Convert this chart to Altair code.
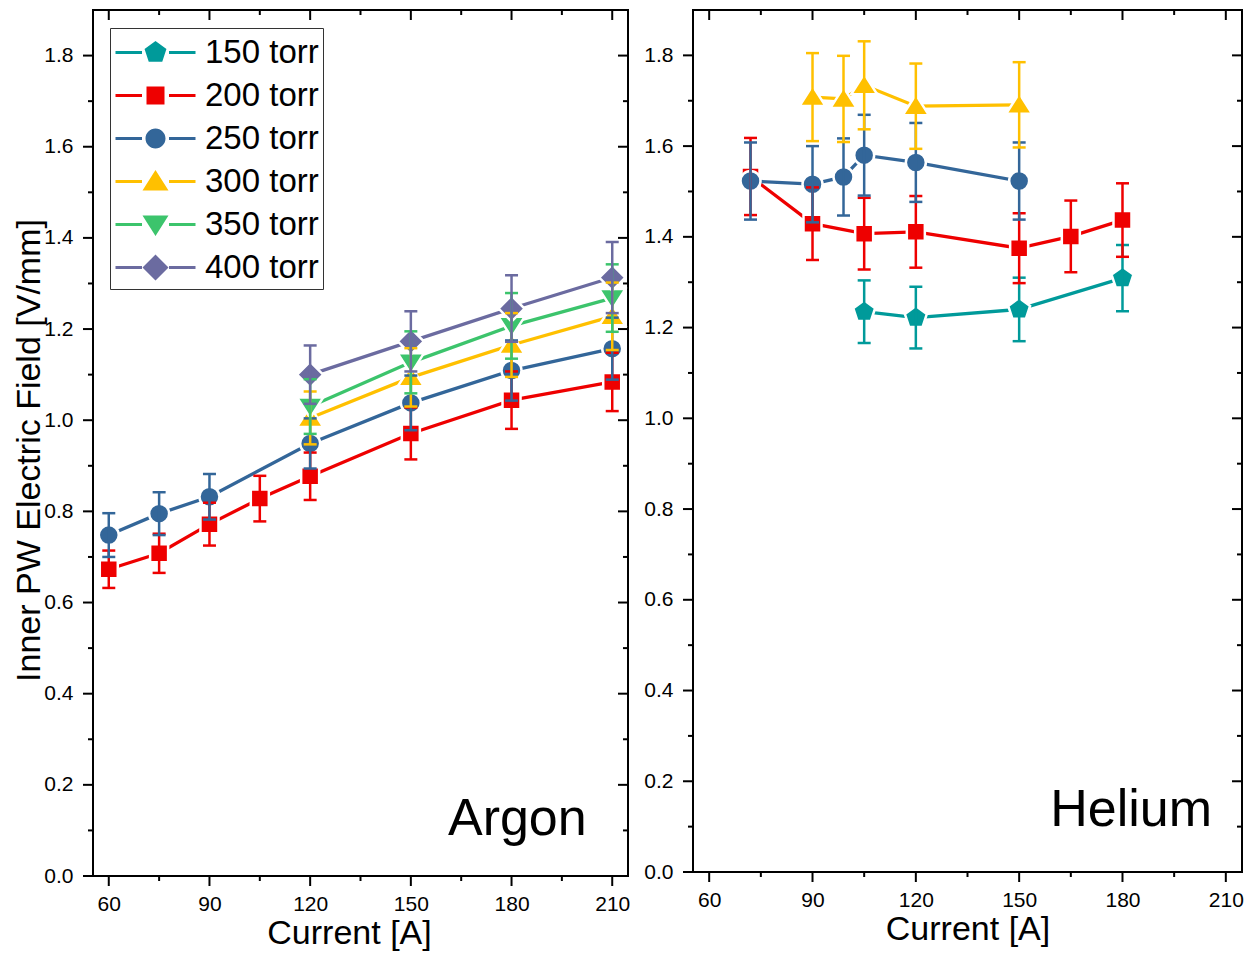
import altair as alt
import pandas as pd

SERIES = ["150 torr", "200 torr", "250 torr", "300 torr", "350 torr", "400 torr"]
COLORS = ["#009a9a", "#ee0000", "#336699", "#ffc000", "#3cc46c", "#6b6ba0"]

# ---------------- Argon (left panel) ----------------
ar_200_x = [60, 75, 90, 105, 120, 150, 180, 210]
ar_200_y = [0.673, 0.708, 0.772, 0.828, 0.877, 0.971, 1.044, 1.084]
ar_200_e = [0.041, 0.043, 0.047, 0.050, 0.052, 0.057, 0.063, 0.064]

ar_250_x = [60, 75, 90, 120, 150, 180, 210]
ar_250_y = [0.748, 0.795, 0.832, 0.949, 1.038, 1.109, 1.157]
ar_250_e = [0.048, 0.047, 0.050, 0.055, 0.060, 0.066, 0.068]

ar_300_x = [120, 150, 180, 210]
ar_300_y = [1.005, 1.094, 1.165, 1.228]
ar_300_e = [0.058, 0.064, 0.070, 0.074]

ar_350_x = [120, 150, 180, 210]
ar_350_y = [1.030, 1.127, 1.207, 1.268]
ar_350_e = [0.060, 0.068, 0.072, 0.074]

ar_400_x = [120, 150, 180, 210]
ar_400_y = [1.100, 1.173, 1.245, 1.313]
ar_400_e = [0.064, 0.066, 0.073, 0.078]

# ---------------- Helium (right panel) ----------------
he_150_x = [105, 120, 150, 180]
he_150_y = [1.235, 1.222, 1.240, 1.309]
he_150_e = [0.069, 0.068, 0.070, 0.073]

he_200_x = [72, 90, 105, 120, 150, 165, 180]
he_200_y = [1.533, 1.429, 1.407, 1.411, 1.375, 1.401, 1.437]
he_200_e = [0.085, 0.080, 0.079, 0.079, 0.077, 0.079, 0.081]

he_250_x = [72, 90, 99, 105, 120, 150]
he_250_y = [1.523, 1.516, 1.532, 1.580, 1.564, 1.523]
he_250_e = [0.085, 0.084, 0.085, 0.089, 0.087, 0.085]

he_300_x = [90, 99, 105, 120, 150]
he_300_y = [1.708, 1.704, 1.734, 1.688, 1.691]
he_300_e = [0.097, 0.095, 0.097, 0.094, 0.094]

# ticks / annotations
X_MAJOR = [60, 90, 120, 150, 180, 210]
X_MINOR = [75, 105, 135, 165, 195]
Y_MAJOR = [0.0, 0.2, 0.4, 0.6, 0.8, 1.0, 1.2, 1.4, 1.6, 1.8]
Y_MINOR = [0.1, 0.3, 0.5, 0.7, 0.9, 1.1, 1.3, 1.5, 1.7]
X_DOMAIN = [55.3, 214.7]
Y_DOMAIN = [0.0, 1.9]

ar_label = ["Argon"]
ar_label_x = [202.4]
ar_label_y = [0.09]
he_label = ["Helium"]
he_label_x = [206.0]
he_label_y = [0.101]

# marker shapes (custom symbol paths, unit = sqrt(size)/2 px)
MARKERS = [
    "M0,-1.15L1.094,-0.355L0.676,0.93L-0.676,0.93L-1.094,-0.355Z",
    "M-0.9,-0.9L0.9,-0.9L0.9,0.9L-0.9,0.9Z",
    "M1,0A1,1,0,1,1,-1,0A1,1,0,1,1,1,0Z",
    "M0,-1.15L1.3,0.9L-1.3,0.9Z",
    "M0,1.15L1.3,-0.9L-1.3,-0.9Z",
    "M0,-1.3L1.3,0L0,1.3L-1.3,0Z",
]
LINE_SEG = "M-4,-0.16L-1.35,-0.16L-1.35,0.16L-4,0.16ZM1.35,-0.16L4,-0.16L4,0.16L1.35,0.16Z"
LEG_MARKERS = [LINE_SEG + m for m in MARKERS]

FONT = "Liberation Sans"


def frame(series, xs, ys, es):
    rows = []
    for s, xx, yy, ee in zip(series, xs, ys, es):
        for a, b, c in zip(xx, yy, ee):
            rows.append({"series": s, "x": a, "y": b, "e": c})
    return pd.DataFrame(rows)


ar_df = frame(
    ["200 torr", "250 torr", "300 torr", "350 torr", "400 torr"],
    [ar_200_x, ar_250_x, ar_300_x, ar_350_x, ar_400_x],
    [ar_200_y, ar_250_y, ar_300_y, ar_350_y, ar_400_y],
    [ar_200_e, ar_250_e, ar_300_e, ar_350_e, ar_400_e],
)
he_df = frame(
    ["150 torr", "200 torr", "250 torr", "300 torr"],
    [he_150_x, he_200_x, he_250_x, he_300_x],
    [he_150_y, he_200_y, he_250_y, he_300_y],
    [he_150_e, he_200_e, he_250_e, he_300_e],
)


def panel(df, W, H, ytitle, xtitle_x, lab, lab_x, lab_y, with_legend):
    xs = alt.Scale(domain=X_DOMAIN, nice=False, zero=False)
    ys = alt.Scale(domain=Y_DOMAIN, nice=False, zero=False)
    xaxis_kw = dict(values=X_MAJOR, format="d", title="Current [A]", labelPadding=17, titlePadding=2)
    if xtitle_x is not None:
        xaxis_kw["titleX"] = xtitle_x
    XA = alt.Axis(**xaxis_kw)
    if ytitle:
        YA = alt.Axis(values=Y_MAJOR, format=".1f", labelPadding=20, titlePadding=-3,
                      title=ytitle, titleY=440)
    else:
        YA = alt.Axis(values=Y_MAJOR, format=".1f", labelPadding=20, title=None)

    def X(f):
        return alt.X(f, type="quantitative", scale=xs, axis=XA)

    def Y(f):
        return alt.Y(f, type="quantitative", scale=ys, axis=YA)

    layers = []
    present = list(dict.fromkeys(df["series"]))
    for s in present:
        c = COLORS[SERIES.index(s)]
        sdf = alt.Chart(df).transform_filter(alt.datum.series == s)
        layers.append(sdf.mark_line(color=c, strokeWidth=3.3).encode(x=X("x"), y=Y("y"), order="x:Q"))
    for s in present:
        i = SERIES.index(s)
        c = COLORS[i]
        sdf = alt.Chart(df).transform_filter(alt.datum.series == s)
        layers.append(
            sdf.mark_point(shape=MARKERS[i], filled=True, color=c, fill=c, opacity=1, size=400,
                           stroke="white", strokeWidth=2.5).encode(x=X("x"), y=Y("y"))
        )
    for s in present:
        c = COLORS[SERIES.index(s)]
        eb = alt.Chart(df).transform_filter(alt.datum.series == s).transform_calculate(
            lo="datum.y - datum.e", hi="datum.y + datum.e")
        layers.append(eb.mark_rule(color=c, strokeWidth=2.5).encode(x=X("x"), y=Y("lo"), y2="hi:Q"))
        layers.append(eb.mark_tick(color=c, orient="horizontal", size=13, thickness=2.5, opacity=1).encode(
            x=X("x"), y=Y("lo")))
        layers.append(eb.mark_tick(color=c, orient="horizontal", size=13, thickness=2.5, opacity=1).encode(
            x=X("x"), y=Y("hi")))

    xmaj = alt.Chart(pd.DataFrame({"v": X_MAJOR}))
    xmin = alt.Chart(pd.DataFrame({"v": X_MINOR}))
    ymaj = alt.Chart(pd.DataFrame({"v": Y_MAJOR}))
    ymin = alt.Chart(pd.DataFrame({"v": Y_MINOR}))
    rk = dict(color="black", strokeWidth=2)
    layers += [
        xmaj.mark_rule(**rk).encode(x=X("v"), y=alt.value(H), y2=alt.value(H + 10)),
        xmin.mark_rule(**rk).encode(x=X("v"), y=alt.value(H), y2=alt.value(H + 5)),
        xmaj.mark_rule(**rk).encode(x=X("v"), y=alt.value(0), y2=alt.value(10)),
        xmin.mark_rule(**rk).encode(x=X("v"), y=alt.value(0), y2=alt.value(5)),
        ymaj.mark_rule(**rk).encode(y=Y("v"), x=alt.value(0), x2=alt.value(-10)),
        ymin.mark_rule(**rk).encode(y=Y("v"), x=alt.value(0), x2=alt.value(-5)),
        ymaj.mark_rule(**rk).encode(y=Y("v"), x=alt.value(W), x2=alt.value(W - 10)),
        ymin.mark_rule(**rk).encode(y=Y("v"), x=alt.value(W), x2=alt.value(W - 5)),
    ]

    layers.append(
        alt.Chart(pd.DataFrame({"t": lab, "x": lab_x, "y": lab_y})).mark_text(
            align="right", baseline="alphabetic", fontSize=52, font=FONT, color="black"
        ).encode(x=X("x"), y=Y("y"), text="t:N")
    )

    if with_legend:
        leg = alt.Legend(title=" ", titleFontSize=1, titlePadding=3)
        layers.append(
            alt.Chart(df).transform_filter("false").mark_point(filled=True, opacity=1, size=400).encode(
                x=X("x"), y=Y("y"),
                color=alt.Color("series:N", scale=alt.Scale(domain=SERIES, range=COLORS), legend=leg),
                shape=alt.Shape("series:N", scale=alt.Scale(domain=SERIES, range=LEG_MARKERS), legend=leg),
            )
        )

    return alt.layer(*layers).properties(width=W, height=H)


left = panel(ar_df, 535, 866, "Inner PW Electric Field [V/mm]", 256, ar_label, ar_label_x, ar_label_y, True)
right = panel(he_df, 549, 862, None, None, he_label, he_label_x, he_label_y, False)

chart = alt.hconcat(left, right, spacing=65, bounds="flush").properties(
    padding={"left": 3, "top": 0, "right": 0, "bottom": 0}, background="white"
).configure_view(stroke="black", strokeWidth=2).configure_axis(
    labelFont=FONT, labelFontSize=21, labelColor="black",
    titleFont=FONT, titleFontSize=34, titleFontWeight="normal", titleColor="black",
    domain=False, ticks=False, tickSize=0, grid=False,
).configure_legend(
    orient="none", legendX=17, legendY=18, padding=4,
    strokeColor="#333333", strokeWidth=1, fillColor="white",
    symbolSize=400, symbolStrokeWidth=0, symbolStrokeColor="transparent",
    symbolOffset=25, labelOffset=33,
    labelFont=FONT, labelFontSize=33, labelColor="black", rowPadding=9,
)

chart.save("out.html", embed_options={"renderer": "svg", "actions": False})
